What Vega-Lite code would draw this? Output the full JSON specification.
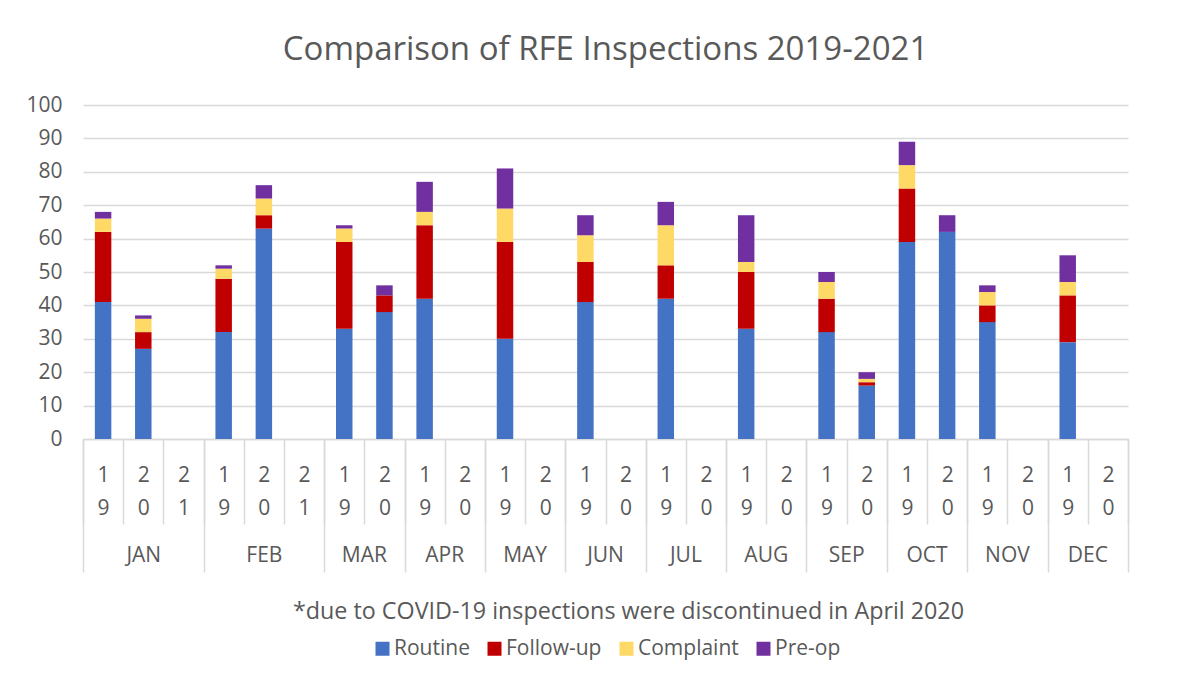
{
  "$schema": "https://vega.github.io/schema/vega-lite/v6.json",
  "autosize": {"type": "none"},
  "padding": {"left": 83, "top": 105, "right": 62, "bottom": 259},
  "width": 1045,
  "height": 334,
  "background": "white",
  "title": {"text": "Comparison of RFE Inspections 2019-2021", "font": "Open Sans", "fontSize": 33, "fontWeight": "normal", "color": "#595959", "anchor": "middle", "offset": 27},
  "config": {"view": {"stroke": null}, "font": "Open Sans"},
  "data": {"values": [
    {"s": "JAN 19", "t": "Routine", "k": 1, "v": 41}, {"s": "JAN 19", "t": "Follow-up", "k": 2, "v": 21}, {"s": "JAN 19", "t": "Complaint", "k": 3, "v": 4}, {"s": "JAN 19", "t": "Pre-op", "k": 4, "v": 2},
    {"s": "JAN 20", "t": "Routine", "k": 1, "v": 27}, {"s": "JAN 20", "t": "Follow-up", "k": 2, "v": 5}, {"s": "JAN 20", "t": "Complaint", "k": 3, "v": 4}, {"s": "JAN 20", "t": "Pre-op", "k": 4, "v": 1},
    {"s": "FEB 19", "t": "Routine", "k": 1, "v": 32}, {"s": "FEB 19", "t": "Follow-up", "k": 2, "v": 16}, {"s": "FEB 19", "t": "Complaint", "k": 3, "v": 3}, {"s": "FEB 19", "t": "Pre-op", "k": 4, "v": 1},
    {"s": "FEB 20", "t": "Routine", "k": 1, "v": 63}, {"s": "FEB 20", "t": "Follow-up", "k": 2, "v": 4}, {"s": "FEB 20", "t": "Complaint", "k": 3, "v": 5}, {"s": "FEB 20", "t": "Pre-op", "k": 4, "v": 4},
    {"s": "MAR 19", "t": "Routine", "k": 1, "v": 33}, {"s": "MAR 19", "t": "Follow-up", "k": 2, "v": 26}, {"s": "MAR 19", "t": "Complaint", "k": 3, "v": 4}, {"s": "MAR 19", "t": "Pre-op", "k": 4, "v": 1},
    {"s": "MAR 20", "t": "Routine", "k": 1, "v": 38}, {"s": "MAR 20", "t": "Follow-up", "k": 2, "v": 5}, {"s": "MAR 20", "t": "Pre-op", "k": 4, "v": 3},
    {"s": "APR 19", "t": "Routine", "k": 1, "v": 42}, {"s": "APR 19", "t": "Follow-up", "k": 2, "v": 22}, {"s": "APR 19", "t": "Complaint", "k": 3, "v": 4}, {"s": "APR 19", "t": "Pre-op", "k": 4, "v": 9},
    {"s": "MAY 19", "t": "Routine", "k": 1, "v": 30}, {"s": "MAY 19", "t": "Follow-up", "k": 2, "v": 29}, {"s": "MAY 19", "t": "Complaint", "k": 3, "v": 10}, {"s": "MAY 19", "t": "Pre-op", "k": 4, "v": 12},
    {"s": "JUN 19", "t": "Routine", "k": 1, "v": 41}, {"s": "JUN 19", "t": "Follow-up", "k": 2, "v": 12}, {"s": "JUN 19", "t": "Complaint", "k": 3, "v": 8}, {"s": "JUN 19", "t": "Pre-op", "k": 4, "v": 6},
    {"s": "JUL 19", "t": "Routine", "k": 1, "v": 42}, {"s": "JUL 19", "t": "Follow-up", "k": 2, "v": 10}, {"s": "JUL 19", "t": "Complaint", "k": 3, "v": 12}, {"s": "JUL 19", "t": "Pre-op", "k": 4, "v": 7},
    {"s": "AUG 19", "t": "Routine", "k": 1, "v": 33}, {"s": "AUG 19", "t": "Follow-up", "k": 2, "v": 17}, {"s": "AUG 19", "t": "Complaint", "k": 3, "v": 3}, {"s": "AUG 19", "t": "Pre-op", "k": 4, "v": 14},
    {"s": "SEP 19", "t": "Routine", "k": 1, "v": 32}, {"s": "SEP 19", "t": "Follow-up", "k": 2, "v": 10}, {"s": "SEP 19", "t": "Complaint", "k": 3, "v": 5}, {"s": "SEP 19", "t": "Pre-op", "k": 4, "v": 3},
    {"s": "SEP 20", "t": "Routine", "k": 1, "v": 16}, {"s": "SEP 20", "t": "Follow-up", "k": 2, "v": 1}, {"s": "SEP 20", "t": "Complaint", "k": 3, "v": 1}, {"s": "SEP 20", "t": "Pre-op", "k": 4, "v": 2},
    {"s": "OCT 19", "t": "Routine", "k": 1, "v": 59}, {"s": "OCT 19", "t": "Follow-up", "k": 2, "v": 16}, {"s": "OCT 19", "t": "Complaint", "k": 3, "v": 7}, {"s": "OCT 19", "t": "Pre-op", "k": 4, "v": 7},
    {"s": "OCT 20", "t": "Routine", "k": 1, "v": 62}, {"s": "OCT 20", "t": "Pre-op", "k": 4, "v": 5},
    {"s": "NOV 19", "t": "Routine", "k": 1, "v": 35}, {"s": "NOV 19", "t": "Follow-up", "k": 2, "v": 5}, {"s": "NOV 19", "t": "Complaint", "k": 3, "v": 4}, {"s": "NOV 19", "t": "Pre-op", "k": 4, "v": 2},
    {"s": "DEC 19", "t": "Routine", "k": 1, "v": 29}, {"s": "DEC 19", "t": "Follow-up", "k": 2, "v": 14}, {"s": "DEC 19", "t": "Complaint", "k": 3, "v": 4}, {"s": "DEC 19", "t": "Pre-op", "k": 4, "v": 8}
  ]},
  "resolve": {"axis": {"x": "independent"}},
  "layer": [
    {
      "mark": {"type": "bar", "width": {"band": 0.41}},
      "encoding": {
        "x": {
          "field": "s", "type": "nominal",
          "scale": {"domain": ["JAN 19", "JAN 20", "JAN 21", "FEB 19", "FEB 20", "FEB 21", "MAR 19", "MAR 20", "APR 19", "APR 20", "MAY 19", "MAY 20", "JUN 19", "JUN 20", "JUL 19", "JUL 20", "AUG 19", "AUG 20", "SEP 19", "SEP 20", "OCT 19", "OCT 20", "NOV 19", "NOV 20", "DEC 19", "DEC 20"], "paddingInner": 0, "paddingOuter": 0},
          "axis": {
            "orient": "bottom", "title": null, "labelAngle": 0,
            "tickBand": "extent", "tickSize": 85, "tickColor": "#d9d9d9", "tickWidth": 1.5,
            "domainColor": "#d9d9d9", "domainWidth": 1.5,
            "labelExpr": "split(slice(datum.label + '', 4), '')",
            "labelFont": "Open Sans", "labelFontSize": 21, "labelColor": "#595959",
            "labelBaseline": "top", "labelLineHeight": 33, "labelPadding": -60
          }
        },
        "y": {
          "field": "v", "type": "quantitative", "stack": "zero",
          "scale": {"domain": [0, 100]},
          "axis": {"title": null, "values": [0, 10, 20, 30, 40, 50, 60, 70, 80, 90, 100], "domain": false, "ticks": false, "gridColor": "#d9d9d9", "gridWidth": 1.5, "labelFont": "Open Sans", "labelFontSize": 21, "labelColor": "#595959", "labelPadding": 21}
        },
        "color": {
          "field": "t", "type": "nominal",
          "scale": {"domain": ["Routine", "Follow-up", "Complaint", "Pre-op"], "range": ["#4472C4", "#C00000", "#FFD966", "#7030A0"]},
          "legend": {"title": null, "orient": "none", "direction": "horizontal", "legendX": 289, "legendY": 533, "symbolType": "square", "symbolSize": 196, "symbolStrokeWidth": 0, "labelFont": "Open Sans", "labelFontSize": 21, "labelColor": "#595959", "labelOffset": 1, "columnPadding": 14}
        },
        "order": {"field": "k", "type": "quantitative", "sort": "ascending"}
      }
    },
    {
      "mark": {"type": "rule", "opacity": 0},
      "encoding": {
        "x": {
          "field": "s", "type": "nominal",
          "axis": {
            "orient": "bottom", "labelAngle": 0,
            "title": "*due to COVID-19 inspections were discontinued in April 2020",
            "titleFont": "Open Sans", "titleFontSize": 23.3, "titleFontWeight": "normal", "titleColor": "#595959", "titlePadding": 28, "titleX": 545,
            "tickBand": "extent", "tickSize": 133, "tickColor": "#d9d9d9", "tickWidth": 1.5,
            "tickOpacity": {"condition": {"test": "indexof(['JAN 19','JAN 20','FEB 19','FEB 20','MAR 19','APR 19','MAY 19','JUN 19','JUL 19','AUG 19','SEP 19','OCT 19','NOV 19','DEC 19'], datum.value) >= 0", "value": 0}, "value": 1},
            "domain": false,
            "labelExpr": "(datum.label == 'JAN 20' || datum.label == 'FEB 20') ? slice(datum.label + '', 0, 3) : ''",
            "labelFont": "Open Sans", "labelFontSize": 21, "labelColor": "#595959",
            "labelBaseline": "middle", "labelPadding": -17
          }
        }
      }
    },
    {
      "mark": {"type": "rule", "opacity": 0},
      "encoding": {
        "x": {
          "field": "s", "type": "nominal",
          "axis": {
            "orient": "bottom", "labelAngle": 0, "title": null,
            "ticks": false, "domain": false,
            "labelExpr": "(slice(datum.label + '', 4) == '19' && datum.label != 'JAN 19' && datum.label != 'FEB 19') ? slice(datum.label + '', 0, 3) : ''",
            "labelOffset": 20.1,
            "labelFont": "Open Sans", "labelFontSize": 21, "labelColor": "#595959",
            "labelBaseline": "middle", "labelPadding": 116
          }
        }
      }
    }
  ]
}
